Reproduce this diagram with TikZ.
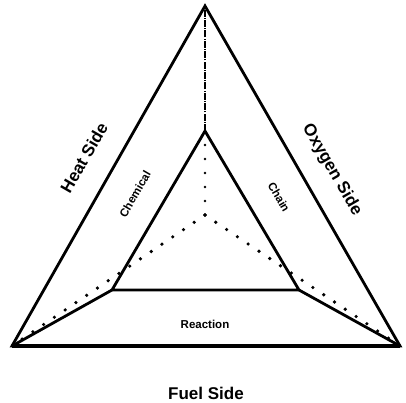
\documentclass[tikz,border=0pt]{standalone}
\usepackage{fontspec}
\setmainfont{Liberation Sans}
\begin{document}
\begin{tikzpicture}[x=1pt,y=-1pt,
  solidline/.style={line width=2.8pt, line join=miter},
  dotline/.style={line width=3.6pt, line cap=round, dash pattern=on 0pt off 13pt},
  fineline/.style={line width=1.6pt, dash pattern=on 7pt off 1.2pt on 1pt off 1.2pt},
  biglabel/.style={font=\bfseries\fontsize{17}{20}\selectfont, inner sep=0pt},
  smalllabel/.style={font=\bfseries\fontsize{11.5}{14}\selectfont, inner sep=0pt}]
\useasboundingbox (0,0) rectangle (406,403);
% vertices
\coordinate (OA) at (205,6);
\coordinate (OL) at (12,346);
\coordinate (OR) at (400,346);
\coordinate (IA) at (205,131);
\coordinate (IL) at (112,290);
\coordinate (IR) at (299,290);
\coordinate (C) at (205,215);
% dotted lines
\draw[dotline] (C) -- (OL);
\draw[dotline] (C) -- (OR);
\draw[line width=2.8pt, line cap=round, dash pattern=on 0pt off 14pt] (C) -- (IA);
\draw[fineline] (IA) -- (OA);
% solid lines
\draw[solidline] (OA) -- (OR) -- (OL) -- cycle;
\draw[solidline] (IA) -- (IR) -- (IL) -- cycle;
\draw[solidline] (IL) -- (OL);
\draw[solidline] (IR) -- (OR);
\draw[line width=3.4pt] (OL) -- (OR);
% labels
\node[biglabel, rotate=60] (heat) at (84,158) {Heat Side};
\node[biglabel, rotate=-60] (oxy) at (332,170) {Oxygen Side};
\node[biglabel] (fuel) at (206,393) {Fuel Side};
\node[smalllabel, rotate=60] (chem) at (135,194) {Chemical};
\node[smalllabel, rotate=-60] (chain) at (279,197) {Chain};
\node[smalllabel] (react) at (205,324) {Reaction};
\end{tikzpicture}
\end{document}
